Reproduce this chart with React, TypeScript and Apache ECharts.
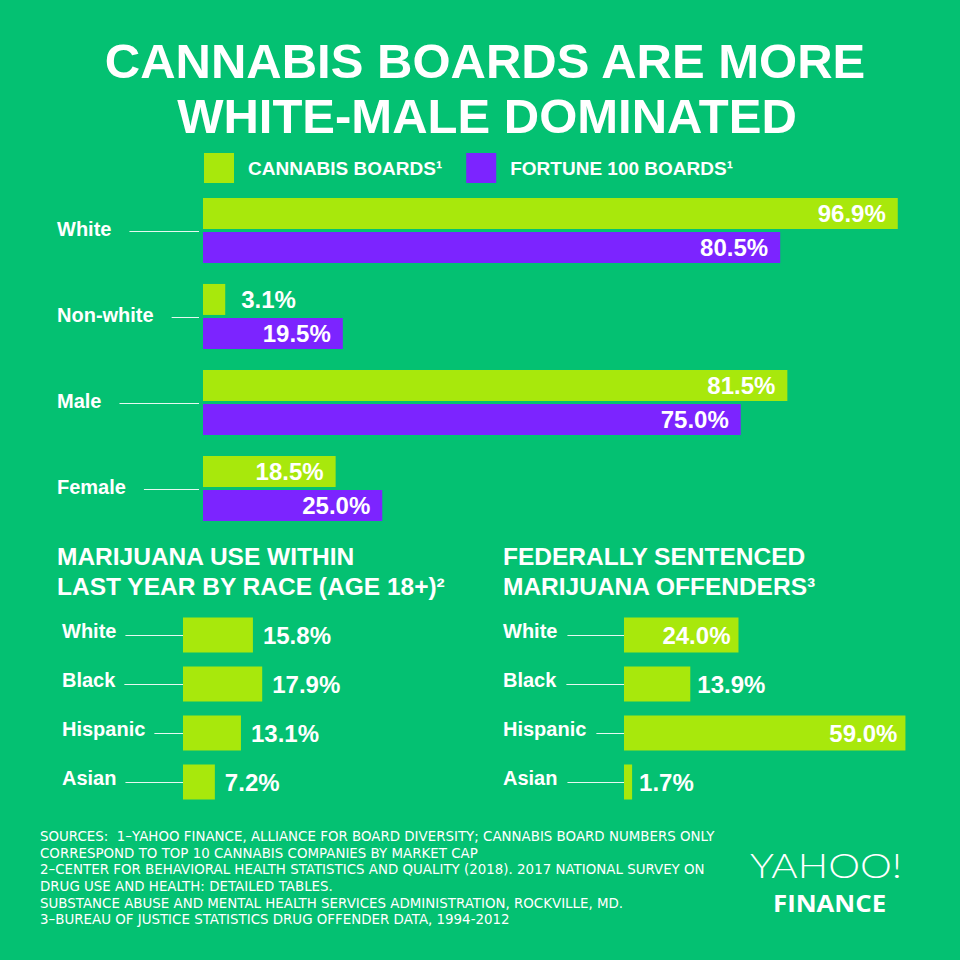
import React, { useEffect, useRef } from "react";
import * as echarts from "echarts";

const BG = "#04C172";
const LIME = "#A8E80C";
const PURPLE = "#7C24FF";

const titleLines = ["CANNABIS BOARDS ARE MORE", "WHITE-MALE DOMINATED"];
const legendNames = ["CANNABIS BOARDS¹", "FORTUNE 100 BOARDS¹"];

const boardCategories = ["White", "Non-white", "Male", "Female"];
const cannabisBoards = [96.9, 3.1, 81.5, 18.5];
const fortuneBoards = [80.5, 19.5, 75.0, 25.0];

const useTitleLines = ["MARIJUANA USE WITHIN", "LAST YEAR BY RACE (AGE 18+)²"];
const offenderTitleLines = ["FEDERALLY SENTENCED", "MARIJUANA OFFENDERS³"];
const raceCategories = ["White", "Black", "Hispanic", "Asian"];
const marijuanaUse = [15.8, 17.9, 13.1, 7.2];
const sentencedOffenders = [24.0, 13.9, 59.0, 1.7];

const sourceLines = [
  "SOURCES:  1–YAHOO FINANCE, ALLIANCE FOR BOARD DIVERSITY; CANNABIS BOARD NUMBERS ONLY",
  "CORRESPOND TO TOP 10 CANNABIS COMPANIES BY MARKET CAP",
  "2–CENTER FOR BEHAVIORAL HEALTH STATISTICS AND QUALITY (2018). 2017 NATIONAL SURVEY ON",
  "DRUG USE AND HEALTH: DETAILED TABLES.",
  "SUBSTANCE ABUSE AND MENTAL HEALTH SERVICES ADMINISTRATION, ROCKVILLE, MD.",
  "3–BUREAU OF JUSTICE STATISTICS DRUG OFFENDER DATA, 1994-2012",
];

const CAT_FONT = "'Liberation Sans', Arial, sans-serif";
const NUM_FONT = "'Liberation Sans', Arial, sans-serif";

function measure(text: string, font: string): number {
  const c = document.createElement("canvas");
  const ctx = c.getContext("2d");
  if (!ctx) return text.length * 10;
  ctx.font = font;
  return ctx.measureText(text).width;
}

function barData(values: number[], pxPerUnit: number, inDist: number, outDist: number) {
  return values.map((v) => {
    const inside = v * pxPerUnit > 100;
    return {
      value: v,
      label: { position: inside ? "insideRight" : "right", distance: inside ? inDist : outDist },
    };
  });
}

const valueLabel = {
  show: true,
  color: "#fff",
  fontFamily: NUM_FONT,
  fontWeight: "bold",
  fontSize: 24,
  formatter: (p: any) => `${Number(p.value).toFixed(1)}%`,
};

function connector(
  xAxisIndex: number,
  yAxisIndex: number,
  cats: string[],
  labelX: number,
  fontSize: number,
  gap: number,
  endGap: number
) {
  const widths = cats.map((c) => measure(c, `bold ${fontSize}px 'Liberation Sans'`));
  return {
    type: "custom",
    xAxisIndex,
    yAxisIndex,
    silent: true,
    z: 1,
    data: cats.map((_, i) => [0, i]),
    encode: { x: 0, y: 1 },
    renderItem: (params: any, api: any) => {
      const i = params.dataIndex;
      const p = api.coord([0, i]);
      const y = Math.round(p[1]) + 0.5;
      return {
        type: "line",
        shape: { x1: labelX + widths[i] + gap, y1: y, x2: p[0] - endGap, y2: y },
        style: { stroke: "rgba(255,255,255,0.9)", lineWidth: 1 },
      };
    },
  };
}

export default function App() {
  const ref = useRef<HTMLDivElement>(null);
  useEffect(() => {
    if (!ref.current) return;
    const chart = echarts.init(ref.current, null, { renderer: "svg" });

    const topPx = 717 / 100;
    const leftPx = 177 / 40;
    const rightPx = 286.2 / 60;

    const catLabel = (margin: number, size: number, lift: number) => ({
      show: true,
      align: "left",
      margin,
      formatter: (v: string) => `{a|${v}}`,
      rich: {
        a: {
          color: "#fff",
          fontFamily: CAT_FONT,
          fontWeight: "bold",
          fontSize: size,
          padding: [0, 0, lift * 2, 0],
        },
      },
    });

    const titleStyle = {
      color: "#fff",
      fontFamily: CAT_FONT,
      fontWeight: "bold",
      fontSize: 49,
      lineHeight: 49,
    };
    const subTitleStyle = {
      color: "#fff",
      fontFamily: CAT_FONT,
      fontWeight: "bold",
      fontSize: 24.5,
      lineHeight: 30,
    };

    const option: any = {
      animation: false,
      backgroundColor: BG,
      title: [
        { text: titleLines[0], left: 485, textAlign: "center", top: 36.5, padding: 0, textStyle: titleStyle },
        { text: titleLines[1], left: 487, textAlign: "center", top: 91.5, padding: 0, textStyle: titleStyle },
        { text: useTitleLines.join("\n"), left: 57, top: 541, padding: 0, textStyle: subTitleStyle },
        { text: offenderTitleLines.join("\n"), left: 503, top: 541, padding: 0, textStyle: subTitleStyle },
      ],
      legend: {
        data: legendNames,
        left: 204,
        top: 153,
        padding: 0,
        itemWidth: 30,
        itemHeight: 30,
        itemGap: 24,
        icon: "rect",
        selectedMode: false,
        textStyle: {
          color: "#fff",
          fontFamily: NUM_FONT,
          fontWeight: "bold",
          fontSize: 19,
          padding: [0, 0, 0, 9],
        },
      },
      grid: [
        { left: 203, top: 187.5, width: 717, height: 344, containLabel: false },
        { left: 183, top: 610.5, width: 177, height: 196, containLabel: false },
        { left: 624, top: 610.5, width: 286.2, height: 196, containLabel: false },
      ],
      xAxis: [
        { type: "value", gridIndex: 0, min: 0, max: 100, show: false },
        { type: "value", gridIndex: 1, min: 0, max: 40, show: false },
        { type: "value", gridIndex: 2, min: 0, max: 60, show: false },
      ],
      yAxis: [
        {
          type: "category",
          gridIndex: 0,
          data: boardCategories,
          inverse: true,
          axisLine: { show: false },
          axisTick: { show: false },
          splitLine: { show: false },
          axisLabel: catLabel(146, 20, 2),
        },
        {
          type: "category",
          gridIndex: 1,
          data: raceCategories,
          inverse: true,
          axisLine: { show: false },
          axisTick: { show: false },
          splitLine: { show: false },
          axisLabel: catLabel(121, 20, 4),
        },
        {
          type: "category",
          gridIndex: 2,
          data: raceCategories,
          inverse: true,
          axisLine: { show: false },
          axisTick: { show: false },
          splitLine: { show: false },
          axisLabel: catLabel(121, 20, 4),
        },
      ],
      series: [
        {
          name: legendNames[0],
          type: "bar",
          xAxisIndex: 0,
          yAxisIndex: 0,
          barWidth: 31,
          barGap: "10%",
          itemStyle: { color: LIME },
          label: valueLabel,
          data: barData(cannabisBoards, topPx, 12, 16),
        },
        {
          name: legendNames[1],
          type: "bar",
          xAxisIndex: 0,
          yAxisIndex: 0,
          barWidth: 31,
          barGap: "10%",
          itemStyle: { color: PURPLE },
          label: valueLabel,
          data: barData(fortuneBoards, topPx, 12, 16),
        },
        {
          name: "use",
          type: "bar",
          xAxisIndex: 1,
          yAxisIndex: 1,
          barWidth: 35,
          itemStyle: { color: LIME },
          label: valueLabel,
          data: barData(marijuanaUse, leftPx, 10, 10),
        },
        {
          name: "offenders",
          type: "bar",
          xAxisIndex: 2,
          yAxisIndex: 2,
          barWidth: 35,
          itemStyle: { color: LIME },
          label: valueLabel,
          data: barData(sentencedOffenders, rightPx, 8, 7),
        },
        connector(0, 0, boardCategories, 57, 20, 18, 4),
        connector(1, 1, raceCategories, 62, 20, 9, 0),
        connector(2, 2, raceCategories, 503, 20, 10, 0),
      ],
      graphic: [
        {
          type: "text",
          x: 40,
          y: 828,
          style: {
            text: sourceLines.join("\n"),
            fill: "#fff",
            font: "13.4px 'DejaVu Sans', sans-serif",
            lineHeight: 16.7,
            verticalAlign: "top",
          },
        },
        {
          type: "text",
          x: 750,
          y: 849,
          scaleX: 1.22,
          style: {
            text: "YAHOO!",
            fill: "#fff",
            font: "300 33px Lato, sans-serif",
            verticalAlign: "top",
          },
        },
        {
          type: "text",
          x: 773,
          y: 892,
          scaleX: 1.12,
          style: {
            text: "FINANCE",
            fill: "#fff",
            font: "bold 23px 'Open Sans', sans-serif",
            verticalAlign: "top",
          },
        },
      ],
    };
    chart.setOption(option);
    return () => chart.dispose();
  }, []);
  return (
    <div
      ref={ref}
      style={{ position: "fixed", left: 0, top: 0, width: 960, height: 960 }}
    />
  );
}
